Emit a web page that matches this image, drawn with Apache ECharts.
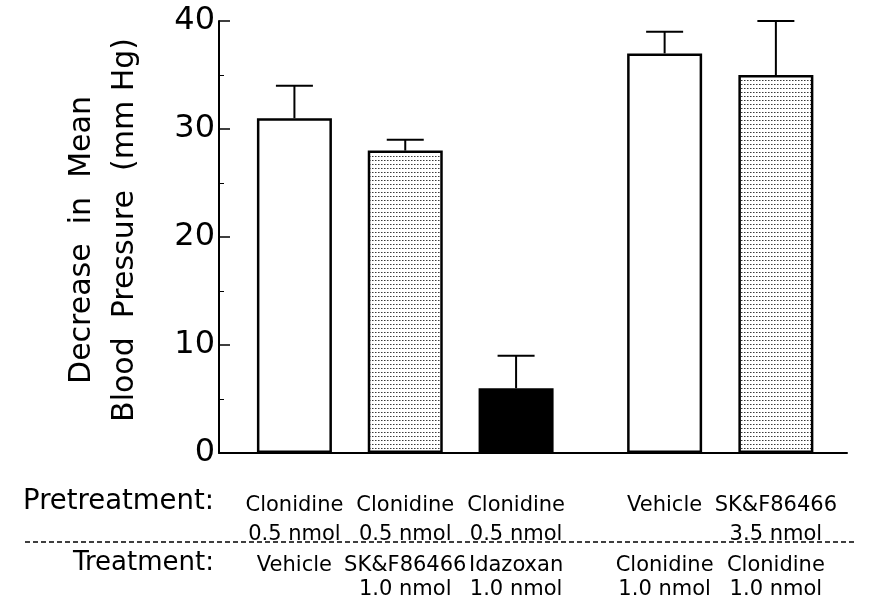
<!DOCTYPE html>
<html>
<head>
<meta charset="utf-8">
<script src="https://cdn.jsdelivr.net/npm/echarts@6/dist/echarts.min.js"></script>
<style>
html,body{margin:0;padding:0;background:#fff;}
#chart{width:873px;height:600px;}
</style>
</head>
<body>
<div id="chart"></div>
<script>
// ---- data ----
const pretreatment = ['Clonidine', 'Clonidine', 'Clonidine', 'Vehicle', 'SK&F86466'];
const pretreatmentDose = ['0.5 nmol', '0.5 nmol', '0.5 nmol', '', '3.5 nmol'];
const treatment = ['Vehicle', 'SK&F86466', 'Idazoxan', 'Clonidine', 'Clonidine'];
const treatmentDose = ['', '1.0 nmol', '1.0 nmol', '1.0 nmol', '1.0 nmol'];
const meanDecrease = [31, 28, 6, 37, 35];
const errorUpper = [34, 29, 9, 39, 40];
const yTicks = [0, 10, 20, 30, 40];
const groupA = [0, 1, 2];
const groupB = [3, 4];

// ---- styles ----
function makeDots() {
  const c = document.createElement('canvas');
  c.width = 3; c.height = 4;
  const ctx = c.getContext('2d');
  ctx.fillStyle = '#ffffff';
  ctx.fillRect(0, 0, 3, 4);
  ctx.fillStyle = '#3a3a3a';
  ctx.fillRect(0, 0, 1, 1);
  ctx.fillStyle = '#9a9a9a';
  ctx.fillRect(1, 0, 1, 1);
  return c;
}
const dots = { image: makeDots(), repeat: 'repeat' };
const fills = ['#ffffff', dots, '#000000', '#ffffff', dots];
const FONT = 'DejaVu Sans';

const chart = echarts.init(document.getElementById('chart'), null, { renderer: 'canvas' });

function labelFormatter(groupIdx) {
  return function (value, index) {
    const i = groupIdx[index];
    const t = s => (s === '' ? ' ' : s);
    return '{a|' + t(pretreatment[i]) + '}\n{b|' + t(pretreatmentDose[i]) + '}\n{c|' +
      t(treatment[i]) + '}\n{d|' + t(treatmentDose[i]) + '}';
  };
}
const rich = {
  a: { fontFamily: FONT, fontSize: 21, lineHeight: 28, color: '#000' },
  b: { fontFamily: FONT, fontSize: 21, lineHeight: 30, color: '#000' },
  c: { fontFamily: FONT, fontSize: 21, lineHeight: 32, color: '#000' },
  d: { fontFamily: FONT, fontSize: 21, lineHeight: 16, color: '#000' }
};

function barSeries(groupIdx, axisIndex) {
  return {
    type: 'bar',
    xAxisIndex: axisIndex, yAxisIndex: axisIndex,
    barWidth: 75,
    animation: false,
    data: groupIdx.map(i => ({
      value: meanDecrease[i],
      itemStyle: { color: fills[i], borderColor: '#000', borderWidth: 2.5 }
    }))
  };
}
function errSeries(groupIdx, axisIndex) {
  return {
    type: 'custom',
    xAxisIndex: axisIndex, yAxisIndex: axisIndex,
    animation: false,
    z: 5,
    data: groupIdx.map((i, k) => [k, meanDecrease[i], errorUpper[i]]),
    renderItem: function (params, api) {
      const p0 = api.coord([api.value(0), api.value(1)]);
      const p1 = api.coord([api.value(0), api.value(2)]);
      const st = { stroke: '#000', lineWidth: 2 };
      return {
        type: 'group',
        children: [
          { type: 'line', shape: { x1: p0[0], y1: p0[1], x2: p1[0], y2: p1[1] }, style: st },
          { type: 'line', shape: { x1: p1[0] - 18.5, y1: p1[1], x2: p1[0] + 18.5, y2: p1[1] }, style: st }
        ]
      };
    }
  };
}

const yBase = { type: 'value', min: yTicks[0], max: yTicks[yTicks.length - 1], interval: 10 };
const gridBase = { top: 21, bottom: 147, containLabel: false, outerBoundsMode: 'none' };

const option = {
  backgroundColor: '#ffffff',
  animation: false,
  grid: [
    Object.assign({ left: 219, right: 26 }, gridBase),
    Object.assign({ left: 239, right: 301.5 }, gridBase),
    Object.assign({ left: 609, right: 41.5 }, gridBase)
  ],
  xAxis: [
    { gridIndex: 0, type: 'value', min: 0, max: 1,
      axisLine: { show: true, onZero: false, lineStyle: { color: '#000', width: 2 } },
      axisTick: { show: false }, axisLabel: { show: false }, splitLine: { show: false } },
    { gridIndex: 1, type: 'category', data: groupA.map(String),
      axisLine: { show: false }, axisTick: { show: false },
      axisLabel: { margin: 39, formatter: labelFormatter(groupA), rich: rich, interval: 0 } },
    { gridIndex: 2, type: 'category', data: groupB.map(String),
      axisLine: { show: false }, axisTick: { show: false },
      axisLabel: { margin: 39, formatter: labelFormatter(groupB), rich: rich, interval: 0 } }
  ],
  yAxis: [
    Object.assign({}, yBase, { gridIndex: 0,
      axisLine: { show: true, lineStyle: { color: '#000', width: 2 } },
      axisTick: { show: true, inside: true, length: 11, lineStyle: { color: '#000', width: 1.5 } },
      minorTick: { show: true, splitNumber: 2, length: 5, lineStyle: { color: '#000', width: 1 } },
      axisLabel: { margin: 4, fontFamily: FONT, fontSize: 32, color: '#000' },
      splitLine: { show: false } }),
    Object.assign({}, yBase, { gridIndex: 1, show: false, splitLine: { show: false } }),
    Object.assign({}, yBase, { gridIndex: 2, show: false, splitLine: { show: false } })
  ],
  series: [
    barSeries(groupA, 1), errSeries(groupA, 1),
    barSeries(groupB, 2), errSeries(groupB, 2)
  ],
  graphic: [
    { type: 'text', x: 82, y: 240, rotation: Math.PI / 2,
      style: { text: 'Decrease  in  Mean', fontFamily: FONT, fontSize: 30, fill: '#000',
               align: 'center', verticalAlign: 'middle' } },
    { type: 'text', x: 125, y: 230, rotation: Math.PI / 2,
      style: { text: 'Blood  Pressure  (mm Hg)', fontFamily: FONT, fontSize: 30, fill: '#000',
               align: 'center', verticalAlign: 'middle' } },
    { type: 'text', x: 214, y: 502,
      style: { text: 'Pretreatment:', fontFamily: FONT, fontSize: 27.5, fill: '#000',
               align: 'right', verticalAlign: 'middle' } },
    { type: 'text', x: 214, y: 563,
      style: { text: 'Treatment:', fontFamily: FONT, fontSize: 26, fill: '#000',
               align: 'right', verticalAlign: 'middle' } },
    { type: 'line', shape: { x1: 25, y1: 542, x2: 857, y2: 542 },
      style: { stroke: '#000', lineWidth: 1.5, lineDash: [5, 3] } }
  ]
};
chart.setOption(option);
</script>
</body>
</html>
